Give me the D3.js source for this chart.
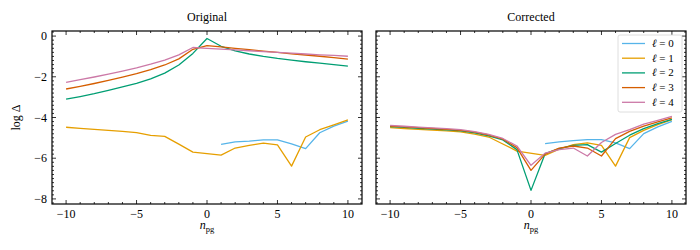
<!DOCTYPE html>
<html>
<head>
<meta charset="utf-8">
<script src="https://cdn.jsdelivr.net/npm/d3@7"></script>
<style>
  body { margin: 0; background: #fff; }
  svg { display: block; font-family: "Liberation Serif", "DejaVu Serif", serif; }
</style>
</head>
<body>
<div id="chart"></div>
<script>
// radial order for each degree
const nFull = [-10, -9, -8, -7, -6, -5, -4, -3, -2, -1, 0, 1, 2, 3, 4, 5, 6, 7, 8, 9, 10];
const nDipole = [-10, -9, -8, -7, -6, -5, -4, -3, -2, -1, 1, 2, 3, 4, 5, 6, 7, 8, 9, 10];
const nRadial = [1, 2, 3, 4, 5, 6, 7, 8, 9, 10];

const degrees = [0, 1, 2, 3, 4];
const colors = ["#56B4E9", "#E69F00", "#009E73", "#D55E00", "#CC79A7"];

// log Delta, original
const origL0 = [-5.32, -5.2, -5.16, -5.1, -5.1, -5.3, -5.53, -4.75, -4.42, -4.18];
const origL1 = [-4.48, -4.53, -4.58, -4.63, -4.68, -4.74, -4.88, -4.93, -5.31, -5.7,
                -5.85, -5.5, -5.37, -5.26, -5.35, -6.39, -4.96, -4.6, -4.36, -4.12];
const origL2 = [-3.1, -2.97, -2.83, -2.67, -2.5, -2.32, -2.1, -1.82, -1.42, -0.85, -0.12,
                -0.5, -0.73, -0.88, -1.0, -1.1, -1.18, -1.26, -1.33, -1.4, -1.48];
const origL3 = [-2.6, -2.47, -2.33, -2.18, -2.02, -1.85, -1.65, -1.42, -1.12, -0.65, -0.47,
                -0.53, -0.6, -0.67, -0.74, -0.8, -0.87, -0.93, -0.99, -1.06, -1.13];
const origL4 = [-2.27, -2.14, -2.01, -1.87, -1.72, -1.56, -1.38, -1.18, -0.92, -0.56, -0.6,
                -0.64, -0.68, -0.72, -0.76, -0.8, -0.84, -0.88, -0.92, -0.95, -0.99];

// log Delta, corrected
const corrL0 = [-5.28, -5.2, -5.14, -5.09, -5.09, -5.25, -5.53, -4.79, -4.46, -4.19];
const corrL1 = [-4.5, -4.54, -4.58, -4.62, -4.66, -4.71, -4.82, -4.96, -5.3, -5.65,
                -5.86, -5.56, -5.33, -5.25, -5.37, -6.39, -4.99, -4.63, -4.35, -4.1];
const corrL2 = [-4.45, -4.49, -4.53, -4.57, -4.61, -4.66, -4.76, -4.9, -5.1, -5.58, -7.58,
                -5.78, -5.53, -5.37, -5.33, -5.7, -5.28, -4.87, -4.55, -4.3, -4.09];
const corrL3 = [-4.42, -4.46, -4.5, -4.54, -4.58, -4.63, -4.72, -4.86, -5.06, -5.48, -6.6,
                -5.8, -5.5, -5.4, -5.5, -5.89, -5.04, -4.68, -4.42, -4.22, -4.02];
const corrL4 = [-4.39, -4.43, -4.47, -4.51, -4.55, -4.6, -4.69, -4.83, -5.03, -5.4, -6.35,
                -5.75, -5.58, -5.5, -5.89, -5.23, -4.83, -4.6, -4.33, -4.14, -3.94];

const xTicks = [-10, -5, 0, 5, 10];
const yTicks = [0, -2, -4, -6, -8];

const nGrids = [nRadial, nDipole, nFull, nFull, nFull];
const panels = [
    { title: "Original", values: [origL0, origL1, origL2, origL3, origL4] },
    { title: "Corrected", values: [corrL0, corrL1, corrL2, corrL3, corrL4] }
];

const W = 700, H = 250;
const plotTop = 31, plotBottom = 204, pw = 310;
const lefts = [52, 376];

const svg = d3.select("#chart").append("svg")
    .attr("width", W)
    .attr("height", H);

const y = d3.scaleLinear().domain([-8.25, 0.25]).range([plotBottom, plotTop]);

const line = d3.line()
    .x(d => d.x)
    .y(d => d.y);

panels.forEach((p, pi) => {
    const x = d3.scaleLinear().domain([-11, 11]).range([lefts[pi], lefts[pi] + pw]);
    const g = svg.append("g");

    // lines
    p.values.forEach((vals, li) => {
        const pts = vals.map((v, i) => ({ x: x(nGrids[li][i]), y: y(v) }));
        g.append("path")
            .attr("d", line(pts))
            .attr("fill", "none")
            .attr("stroke", colors[li])
            .attr("stroke-width", 1.3)
            .attr("stroke-linejoin", "round");
    });

    // ticks, inward on all sides
    const ticks = g.append("g").attr("stroke", "#000").attr("stroke-width", 0.8);
    const xMinor = d3.range(-10, 11, 1).filter(v => !xTicks.includes(v));
    const yMinor = d3.range(-82, 3, 2).map(v => v / 10).filter(v => !yTicks.includes(v));
    const addX = (vals, len) => vals.forEach(v => {
        ticks.append("line").attr("x1", x(v)).attr("x2", x(v)).attr("y1", plotBottom).attr("y2", plotBottom - len);
        ticks.append("line").attr("x1", x(v)).attr("x2", x(v)).attr("y1", plotTop).attr("y2", plotTop + len);
    });
    const addY = (vals, len) => vals.forEach(v => {
        ticks.append("line").attr("x1", lefts[pi]).attr("x2", lefts[pi] + len).attr("y1", y(v)).attr("y2", y(v));
        ticks.append("line").attr("x1", lefts[pi] + pw).attr("x2", lefts[pi] + pw - len).attr("y1", y(v)).attr("y2", y(v));
    });
    addX(xTicks, 4);
    addX(xMinor, 2);
    addY(yTicks, 4);
    addY(yMinor.filter(v => v > -8.25 && v < 0.25), 2);

    // frame
    g.append("rect")
        .attr("x", lefts[pi]).attr("y", plotTop)
        .attr("width", pw).attr("height", plotBottom - plotTop)
        .attr("fill", "none").attr("stroke", "#000").attr("stroke-width", 1.2);

    // x tick labels
    xTicks.forEach(v => {
        g.append("text")
            .attr("x", x(v)).attr("y", plotBottom + 14)
            .attr("text-anchor", "middle")
            .style("font-size", "12px")
            .text(v < 0 ? "\u2212" + Math.abs(v) : v);
    });

    if (pi === 0) {
        yTicks.forEach(v => {
            g.append("text")
                .attr("x", lefts[pi] - 5).attr("y", y(v) + 4)
                .attr("text-anchor", "end")
                .style("font-size", "12px")
                .text(v < 0 ? "\u2212" + Math.abs(v) : v);
        });
    }

    // title
    g.append("text")
        .attr("x", lefts[pi] + pw / 2).attr("y", 21)
        .attr("text-anchor", "middle")
        .style("font-size", "12px")
        .text(p.title);

    // x label
    const xl = g.append("text")
        .attr("x", lefts[pi] + pw / 2).attr("y", 229)
        .attr("text-anchor", "middle")
        .style("font-size", "12px");
    xl.append("tspan").style("font-style", "italic").text("n");
    xl.append("tspan").attr("dy", 2.5).style("font-size", "8.5px").text("pg");
});

// y label
svg.append("text")
    .attr("transform", "translate(20," + ((plotTop + plotBottom) / 2) + ") rotate(-90)")
    .attr("text-anchor", "middle")
    .style("font-size", "12px")
    .text("log \u0394");

// legend
const lg = svg.append("g");
lg.append("rect")
    .attr("x", 618).attr("y", 35)
    .attr("width", 64).attr("height", 77)
    .attr("rx", 2)
    .attr("fill", "#fff").attr("fill-opacity", 0.85)
    .attr("stroke", "#d6d6d6").attr("stroke-width", 0.8);
degrees.forEach((d, i) => {
    const yy = 43.5 + i * 14.7;
    lg.append("line")
        .attr("x1", 622).attr("x2", 645)
        .attr("y1", yy).attr("y2", yy)
        .attr("stroke", colors[i]).attr("stroke-width", 1.3);
    const t = lg.append("text")
        .attr("x", 652).attr("y", yy + 3.5)
        .style("font-size", "11px");
    t.append("tspan").style("font-style", "italic").text("\u2113");
    t.append("tspan").text(" = " + d);
});
</script>
</body>
</html>
